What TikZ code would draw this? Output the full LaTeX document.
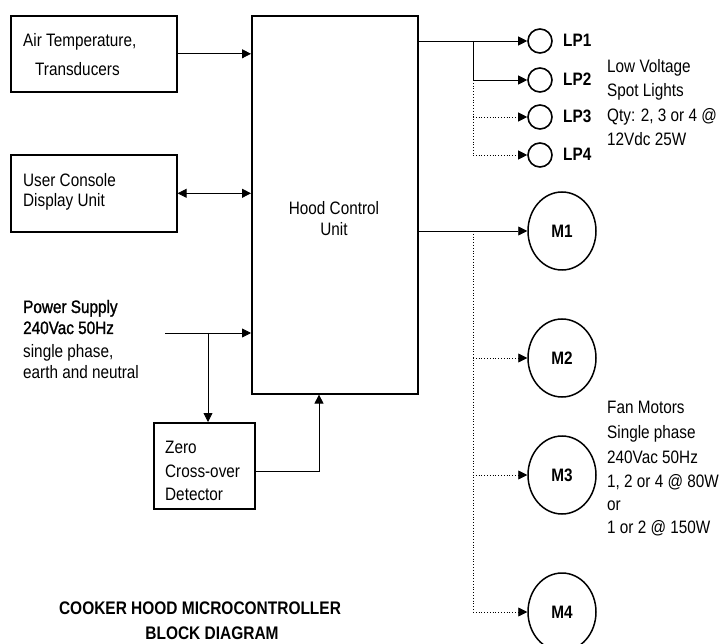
\documentclass[tikz,border=0pt]{standalone}
\usepackage{fontspec}
\setmainfont[FakeStretch=0.85]{Liberation Sans}
\newfontfamily\heavyfont[FakeStretch=0.85,FakeBold=1.2]{Liberation Sans}
\usetikzlibrary{arrows.meta,shapes.geometric}
\begin{document}
\begin{tikzpicture}[x=1pt,y=-1pt,
  blk/.style={draw,line width=1.6pt,inner sep=0pt,anchor=north west},
  txt/.style={inner sep=0pt,anchor=base west,font=\fontsize{18}{21}\selectfont},
  ctxt/.style={inner sep=0pt,anchor=base,font=\fontsize{18}{21}\selectfont},
  btxt/.style={inner sep=0pt,anchor=base west,font=\fontsize{18}{21}\selectfont\bfseries},
  htxt/.style={inner sep=0pt,anchor=base west,font=\fontsize{18}{21}\selectfont\heavyfont},
  ttl/.style={inner sep=0pt,anchor=base,font=\fontsize{18.2}{21}\selectfont\bfseries},
  lamp/.style={draw,circle,line width=1.6pt,minimum size=24pt,inner sep=0pt},
  motor/.style={draw,ellipse,line width=1.5pt,minimum width=68pt,minimum height=78pt,inner sep=0pt,font=\fontsize{18}{21}\selectfont\bfseries},
  conn/.style={line width=0.8pt},
  arr/.style={conn,-{Triangle[length=9pt,width=9pt]}},
  darr/.style={conn,{Triangle[length=9pt,width=9pt]}-{Triangle[length=9pt,width=9pt]}},
  dot/.style={conn,dotted},
  darrow/.style={conn,dotted,-{Triangle[length=9pt,width=9pt]}}]
\clip (0,0) rectangle (723,644);
\fill[white] (0,0) rectangle (723,644);

% boxes
\node[blk,minimum width=166pt,minimum height=76pt] (air) at (10,15) {};
\node[blk,minimum width=166pt,minimum height=77pt] (ucd) at (10,154) {};
\node[blk,minimum width=166pt,minimum height=378pt] (hcu) at (251,15) {};
\node[blk,minimum width=101pt,minimum height=86pt] (zcd) at (153,422) {};

% box texts
\node[txt] (airt1) at (23,47) {Air Temperature,};
\node[txt] (airt2) at (35,76) {Transducers};
\node[txt] (ucdt1) at (23,187) {User Console};
\node[txt] (ucdt2) at (23,207) {Display Unit};
\node[ctxt] (hcut1) at (334,215) {Hood Control};
\node[ctxt] (hcut2) at (334,236) {Unit};
\node[txt] (zcdt1) at (165,453) {Zero};
\node[txt] (zcdt2) at (165,477) {Cross-over};
\node[txt] (zcdt3) at (165,500) {Detector};

% power supply text
\node[htxt] (ps1) at (23,313) {Power Supply};
\node[htxt] (ps2) at (23,334) {240Vac 50Hz};
\node[txt] (ps3) at (23,357) {single phase,};
\node[txt] (ps4) at (23,378) {earth and neutral};

% left connectors
\draw[arr] (air.east) -- (air.east -| hcu.west);
\draw[darr] (ucd.east) -- (ucd.east -| hcu.west);
\coordinate (psin) at (165,333);
\coordinate (psbr) at (208,333);
\draw[arr] (psin) -- (psin -| hcu.west);
\draw[arr] (psbr) -- (psbr |- zcd.north);
\coordinate (zc) at (319,471);
\draw[arr] (zcd.east |- zc) -- (zc) -- (zc |- hcu.south);

% lamps
\node[lamp] (lp1) at (540,41) {};
\node[lamp] (lp2) at (540,80) {};
\node[lamp] (lp3) at (540,117) {};
\node[lamp] (lp4) at (540,155) {};
\node[btxt] (lp1t) at (563,47) {LP1};
\node[btxt] (lp2t) at (563,86) {LP2};
\node[btxt] (lp3t) at (563,123) {LP3};
\node[btxt] (lp4t) at (563,161) {LP4};
\coordinate (lb) at (473,41);
\draw[arr] (hcu.east |- lp1) -- (lp1.west);
\draw[conn] (lb) -- (lb |- lp2);
\draw[arr] (lb |- lp2) -- (lp2.west);
\draw[dot] (lb |- lp2) -- (lb |- lp4);
\draw[darrow] (lb |- lp3) -- (lp3.west);
\draw[darrow] (lb |- lp4) -- (lp4.west);
\node[txt] (lvt1) at (607,73) {Low Voltage};
\node[txt] (lvt2) at (607,97) {Spot Lights};
\node[txt] (lvt3) at (607,122) {Qty: 2, 3 or 4 @};
\node[txt] (lvt4) at (607,146) {12Vdc 25W};

% motors
\node[motor] (m1) at (562,231) {M1};
\node[motor] (m2) at (562,358) {M2};
\node[motor] (m3) at (562,475) {M3};
\node[motor] (m4) at (562,612) {M4};
\coordinate (mb) at (473,231);
\draw[arr] (hcu.east |- m1) -- (m1.west);
\draw[dot] (mb) -- (mb |- m4);
\draw[darrow] (mb |- m2) -- (m2.west);
\draw[darrow] (mb |- m3) -- (m3.west);
\draw[darrow] (mb |- m4) -- (m4.west);
\node[txt] (fm1) at (607,413) {Fan Motors};
\node[txt] (fm2) at (607,438) {Single phase};
\node[txt] (fm3) at (607,463) {240Vac 50Hz};
\node[txt] (fm4) at (607,487) {1, 2 or 4 @ 80W};
\node[txt] (fm5) at (607,510) {or};
\node[txt] (fm6) at (607,533) {1 or 2 @ 150W};

% title
\node[ttl] (title1) at (200,614) {COOKER HOOD MICROCONTROLLER};
\node[ttl] (title2) at (212,639) {BLOCK DIAGRAM};
\end{tikzpicture}
\end{document}
